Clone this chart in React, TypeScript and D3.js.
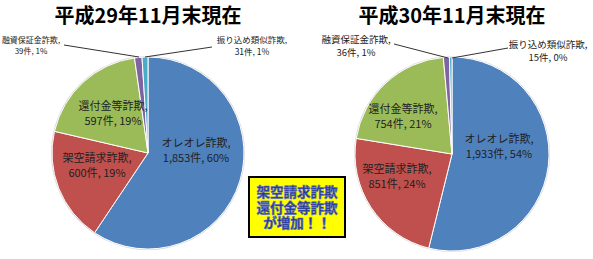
import React from "react";
import * as d3 from "d3";

const categories = ["オレオレ詐欺", "架空請求詐欺", "還付金等詐欺", "融資保証金詐欺", "振り込め類似詐欺"];
const counts2017 = [1853, 600, 597, 39, 31];
const counts2018 = [1933, 851, 754, 36, 15];
const pct2017 = [60, 19, 19, 1, 1];
const pct2018 = [54, 24, 21, 1, 0];
const titles = ["平成29年11月末現在", "平成30年11月末現在"];
const calloutLines = ["架空請求詐欺", "還付金等詐欺", "が増加！！"];
const colors = ["#4F81BD", "#C0504D", "#9BBB59", "#8064A2", "#4BACC6"];

const W = 593;
const H = 259;
const FONT = "'Noto Sans CJK JP', 'Noto Sans', sans-serif";

type LabelPos = { dx: number; dy: number; size: number };
type Leader = { x1: number; y1: number; x2: number; y2: number };

interface PieSpec {
  values: number[];
  pcts: number[];
  title: string;
  cx: number;
  cy: number;
  r: number;
  labels: LabelPos[];
  leaders: (Leader | null)[];
}

const pies: PieSpec[] = [
  {
    values: counts2017,
    pcts: pct2017,
    title: titles[0],
    cx: 148,
    cy: 153,
    r: 96,
    labels: [
      { dx: 48, dy: -6, size: 11 },
      { dx: -51, dy: 9, size: 11 },
      { dx: -35, dy: -43, size: 11 },
      { dx: -117, dy: -110, size: 8 },
      { dx: 104, dy: -110, size: 8.5 },
    ],
    leaders: [null, null, null, { x1: 64, y1: 45, x2: 139, y2: 57 }, { x1: 212, y1: 47, x2: 145, y2: 57 }],
  },
  {
    values: counts2018,
    pcts: pct2018,
    title: titles[1],
    cx: 452,
    cy: 154,
    r: 97,
    labels: [
      { dx: 47, dy: -11, size: 11 },
      { dx: -55, dy: 19, size: 11 },
      { dx: -49, dy: -41, size: 11 },
      { dx: -96, dy: -111, size: 9.5 },
      { dx: 96, dy: -106, size: 9.5 },
    ],
    leaders: [null, null, null, { x1: 394, y1: 44, x2: 448, y2: 58 }, { x1: 508, y1: 48, x2: 452, y2: 58 }],
  },
];

function fmt(n: number) {
  return d3.format(",")(n);
}

function PieChart({ spec }: { spec: PieSpec }) {
  const pie = d3
    .pie<number>()
    .sort(null)
    .value((d) => d)
    .startAngle(0)
    .endAngle(Math.PI * 2);
  const arcs = pie(spec.values);
  const arcGen = d3.arc<d3.PieArcDatum<number>>().innerRadius(0).outerRadius(spec.r);
  return (
    <g>
      <text
        x={spec.cx}
        y={23}
        textAnchor="middle"
        fontFamily={FONT}
        fontWeight="bold"
        fontSize={20}
        fill="#000"
      >
        {spec.title}
      </text>
      <circle cx={spec.cx} cy={spec.cy} r={spec.r + 1} fill="#d8d8d8" />
      <g transform={`translate(${spec.cx},${spec.cy})`}>
        {arcs.map((a, i) => (
          <path key={i} d={arcGen(a) || ""} fill={colors[i]} stroke="#fff" strokeWidth={1} />
        ))}
      </g>
      {spec.leaders.map((l, i) =>
        l ? <line key={i} x1={l.x1} y1={l.y1} x2={l.x2} y2={l.y2} stroke="#333" strokeWidth={1} /> : null
      )}
      {spec.labels.map((lp, i) => {
        const x = spec.cx + lp.dx;
        const y = spec.cy + lp.dy;
        return (
          <text
            key={i}
            x={x}
            y={y}
            textAnchor="middle"
            fontFamily={FONT}
            fontSize={lp.size}
            fill="#222"
          >
            <tspan x={x} dy={0}>{categories[i]},</tspan>
            <tspan x={x} dy={lp.size * 1.4}>{`${fmt(spec.values[i])}件, ${spec.pcts[i]}%`}</tspan>
          </text>
        );
      })}
    </g>
  );
}

export default function App() {
  return (
    <svg
      width={W}
      height={H}
      viewBox={`0 0 ${W} ${H}`}
      style={{ position: "absolute", left: 0, top: 0, background: "#fff" }}
    >
      <rect x={0} y={0} width={W} height={H} fill="#fff" />
      {pies.map((p, i) => (
        <PieChart key={i} spec={p} />
      ))}
      <rect x={249} y={177} width={96} height={60} fill="#FFFF00" stroke="#000" strokeWidth={2} />
      <text
        x={297}
        y={197}
        textAnchor="middle"
        fontFamily={FONT}
        fontWeight="bold"
        fontSize={13.5}
        fill="#22338F"
        stroke="#6070C8"
        strokeWidth={0.6}
      >
        {calloutLines.map((t, i) => (
          <tspan key={i} x={297} dy={i === 0 ? 0 : 15.5}>
            {t}
          </tspan>
        ))}
      </text>
    </svg>
  );
}
